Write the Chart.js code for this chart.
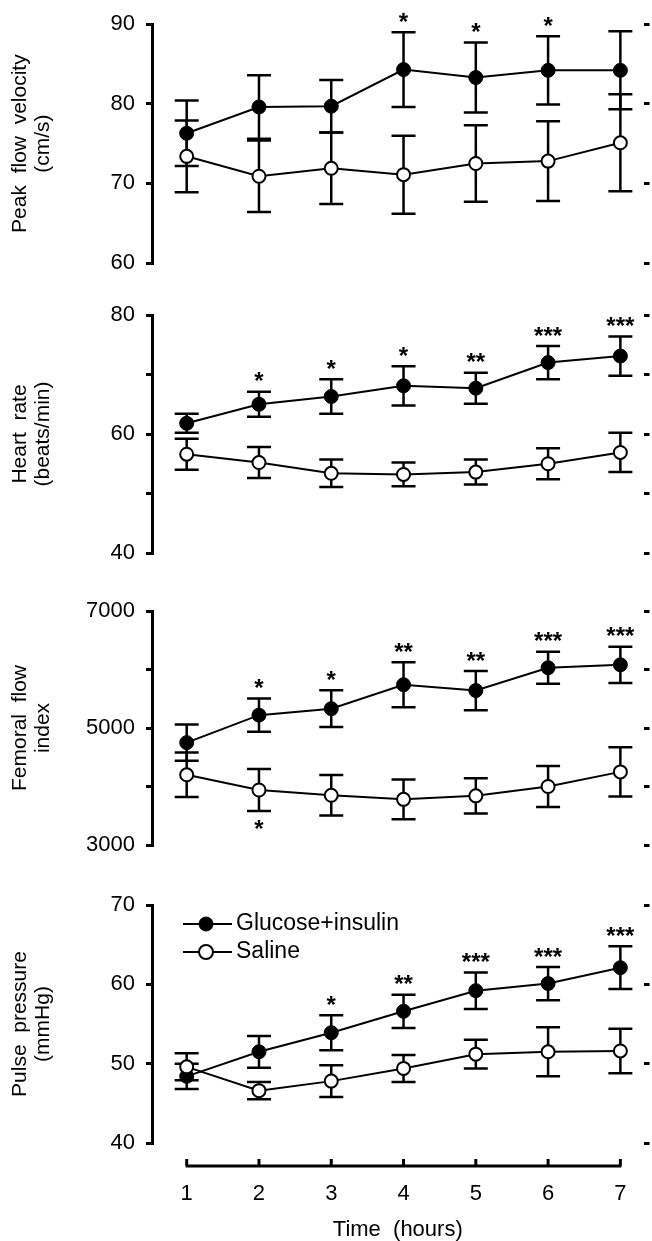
<!DOCTYPE html>
<html>
<head>
<meta charset="utf-8">
<title>Glucose + insulin vs saline</title>
<script src="https://cdn.jsdelivr.net/npm/chart.js@4.4.0/dist/chart.umd.min.js"></script>
<style>
  html, body { margin: 0; padding: 0; background: #fff; overflow: hidden; }
  #figure { position: relative; width: 652px; height: 1241px; }
  #figure canvas { position: absolute; left: 0; }
</style>
</head>
<body>
<div id="figure">
  <canvas id="peakChart" width="652" height="290" style="top:0"></canvas>
  <canvas id="hrChart" width="652" height="290" style="top:290px"></canvas>
  <canvas id="femChart" width="652" height="300" style="top:580px"></canvas>
  <canvas id="ppChart" width="652" height="380" style="top:880px"></canvas>
</div>
<script>
// === Data ===
const hours = [1, 2, 3, 4, 5, 6, 7];
const seriesNames = ["Glucose+insulin", "Saline"];

// peak flow velocity (cm/s)
const peakGlucose = [76.3, 79.6, 79.7, 84.3, 83.3, 84.2, 84.2];
const peakGlucoseErr = [4.1, 4.0, 3.3, 4.7, 4.4, 4.3, 4.9];
const peakSaline = [73.4, 70.9, 71.9, 71.1, 72.5, 72.8, 75.1];
const peakSalineErr = [4.5, 4.5, 4.5, 4.9, 4.8, 5.0, 6.1];
const peakStars = ["", "", "", "*", "*", "*", ""];
const peakTicks = [60, 70, 80, 90];
const peakTickLabels = [60, 70, 80, 90];

// heart rate (beats/min)
const hrGlucose = [61.8, 65.0, 66.3, 68.1, 67.7, 72.0, 73.1];
const hrGlucoseErr = [1.6, 2.1, 2.9, 3.3, 2.6, 2.8, 3.3];
const hrSaline = [56.6, 55.2, 53.4, 53.2, 53.6, 55.0, 56.9];
const hrSalineErr = [2.6, 2.6, 2.3, 2.0, 2.1, 2.6, 3.3];
const hrStars = ["", "*", "*", "*", "**", "***", "***"];
const hrTicks = [40, 50, 60, 70, 80];
const hrTickLabels = [40, 60, 80];

// femoral flow index
const femGlucose = [4750, 5220, 5330, 5740, 5640, 6030, 6080];
const femGlucoseErr = [310, 285, 315, 385, 335, 275, 310];
const femSaline = [4200, 3940, 3850, 3780, 3840, 4000, 4250];
const femSalineErr = [380, 360, 345, 340, 300, 350, 420];
const femStars = ["", "*", "*", "**", "**", "***", "***"];
const femSalineStars = ["", "*", "", "", "", "", ""];
const femTicks = [3000, 4000, 5000, 6000, 7000];
const femTickLabels = [3000, 5000, 7000];

// pulse pressure (mmHg)
const ppGlucose = [48.4, 51.5, 53.9, 56.6, 59.2, 60.1, 62.1];
const ppGlucoseErr = [1.6, 2.0, 2.2, 2.1, 2.3, 2.1, 2.7];
const ppSaline = [49.6, 46.6, 47.8, 49.4, 51.2, 51.5, 51.6];
const ppSalineErr = [1.7, 1.1, 2.0, 1.7, 1.8, 3.1, 2.8];
const ppStars = ["", "", "*", "**", "***", "***", "***"];
const ppTicks = [40, 50, 60, 70];
const ppTickLabels = [40, 50, 60, 70];

const FONT = '"Liberation Sans", Arial, Helvetica, sans-serif';
Chart.defaults.font.family = FONT;
Chart.defaults.color = "#000";

// === Plugins ===
// SEM bars, drawn under the markers
const errorBars = {
  id: "errorBars",
  beforeDatasetsDraw(chart) {
    const ctx = chart.ctx;
    const y = chart.scales.y;
    chart.data.datasets.forEach((ds, di) => {
      const meta = chart.getDatasetMeta(di);
      ctx.save();
      ctx.strokeStyle = "#000";
      ctx.lineWidth = 2.5;
      ctx.beginPath();
      meta.data.forEach((pt, i) => {
        const top = y.getPixelForValue(ds.data[i].y + ds.errors[i]);
        const bot = y.getPixelForValue(ds.data[i].y - ds.errors[i]);
        ctx.moveTo(pt.x, top); ctx.lineTo(pt.x, bot);
        ctx.moveTo(pt.x - 12, top); ctx.lineTo(pt.x + 12, top);
        ctx.moveTo(pt.x - 12, bot); ctx.lineTo(pt.x + 12, bot);
      });
      ctx.stroke();
      ctx.restore();
    });
  }
};

// significance asterisks beside the caps
const starMarks = {
  id: "starMarks",
  afterDatasetsDraw(chart) {
    const ctx = chart.ctx;
    const y = chart.scales.y;
    ctx.save();
    ctx.font = "bold 24px " + FONT;
    ctx.fillStyle = "#000";
    ctx.textAlign = "center";
    ctx.textBaseline = "middle";
    chart.data.datasets.forEach((ds, di) => {
      if (!ds.stars) return;
      const meta = chart.getDatasetMeta(di);
      meta.data.forEach((pt, i) => {
        const s = ds.stars[i];
        if (!s) return;
        if (ds.starSide === "below") {
          const cap = y.getPixelForValue(ds.data[i].y - ds.errors[i]);
          ctx.fillText(s, pt.x, cap + 19);
        } else {
          const cap = y.getPixelForValue(ds.data[i].y + ds.errors[i]);
          ctx.fillText(s, pt.x, cap - 9);
        }
      });
    });
    ctx.restore();
  }
};

// legend with line + marker, top-left of the plot
const lineLegend = {
  id: "lineLegend",
  afterDraw(chart) {
    const ctx = chart.ctx;
    const { left, top } = chart.chartArea;
    ctx.save();
    chart.data.datasets.forEach((ds, i) => {
      const yy = top + 19 + i * 28;
      ctx.strokeStyle = "#000";
      ctx.lineWidth = 2;
      ctx.beginPath();
      ctx.moveTo(left + 31, yy); ctx.lineTo(left + 80, yy);
      ctx.stroke();
      ctx.beginPath();
      ctx.arc(left + 54, yy, 7, 0, Math.PI * 2);
      ctx.fillStyle = ds.pointBackgroundColor;
      ctx.fill();
      ctx.lineWidth = ds.pointBorderWidth;
      ctx.stroke();
      ctx.fillStyle = "#000";
      ctx.font = "23px " + FONT;
      ctx.textBaseline = "middle";
      ctx.fillText(ds.label, left + 84, yy);
    });
    ctx.restore();
  }
};

// detached time axis under the last panel
const hourAxis = {
  id: "hourAxis",
  afterDraw(chart) {
    const ctx = chart.ctx;
    const x = chart.scales.x;
    const yLine = chart.chartArea.bottom + 23;
    ctx.save();
    ctx.strokeStyle = "#000";
    ctx.lineWidth = 3;
    ctx.beginPath();
    ctx.moveTo(x.getPixelForValue(hours[0]) - 1, yLine);
    ctx.lineTo(x.getPixelForValue(hours[hours.length - 1]) + 1, yLine);
    x.ticks.forEach(t => {
      const px = x.getPixelForValue(t.value);
      ctx.moveTo(px, yLine);
      ctx.lineTo(px, yLine - 7);
    });
    ctx.stroke();
    ctx.restore();
  }
};

function points(values) {
  return hours.map((h, i) => ({ x: h, y: values[i] }));
}

function makePanel(id, p) {
  const yCommon = {
    type: "linear",
    min: p.ticks[0],
    max: p.ticks[p.ticks.length - 1],
    afterBuildTicks: s => { s.ticks = p.ticks.map(v => ({ value: v })); },
    grid: { drawOnChartArea: false, color: "#000", lineWidth: 3, tickLength: 6 }
  };
  const plugins = [errorBars, starMarks];
  if (p.bottom) plugins.push(lineLegend, hourAxis);

  return new Chart(document.getElementById(id), {
    type: "line",
    data: {
      datasets: [
        {
          label: seriesNames[0],
          data: points(p.glucose),
          errors: p.glucoseErr,
          stars: p.stars,
          starSide: "above",
          order: 1,
          borderColor: "#000",
          borderWidth: 2,
          pointRadius: 7,
          pointBackgroundColor: "#000",
          pointBorderColor: "#000",
          pointBorderWidth: 1,
          tension: 0,
          clip: false
        },
        {
          label: seriesNames[1],
          data: points(p.saline),
          errors: p.salineErr,
          stars: p.salineStars || null,
          starSide: "below",
          order: 0,
          borderColor: "#000",
          borderWidth: 2,
          pointRadius: 6.5,
          pointBackgroundColor: "#fff",
          pointBorderColor: "#000",
          pointBorderWidth: 2,
          tension: 0,
          clip: false
        }
      ]
    },
    options: {
      responsive: false,
      animation: false,
      events: [],
      layout: { padding: { left: 0, right: 0, top: p.padTop, bottom: p.padBottom } },
      plugins: { legend: { display: false }, tooltip: { enabled: false } },
      scales: {
        x: {
          type: "linear",
          min: 0.52,
          max: 7.32,
          display: !!p.bottom,
          afterBuildTicks: s => { s.ticks = hours.map(v => ({ value: v })); },
          afterFit: s => {
            s.paddingLeft = 0;
            s.paddingRight = 0;
            if (p.bottom) s.height = 117;
          },
          grid: { display: false },
          border: { display: false },
          ticks: { font: { size: 22 }, padding: 30, maxRotation: 0 },
          title: {
            display: true,
            text: "Time  (hours)",
            font: { size: 22 },
            padding: { top: 0, bottom: 17 }
          }
        },
        y: Object.assign({}, yCommon, {
          position: "left",
          afterFit: s => { s.width = 152; },
          border: { display: true, color: "#000", width: 3 },
          ticks: {
            font: { size: 22 },
            padding: 11,
            callback: v => (p.labels.includes(v) ? String(v) : "")
          },
          title: {
            display: true,
            text: p.title,
            font: { size: 21, lineHeight: 1.1 },
            padding: { top: 9, bottom: 0 }
          }
        }),
        yRight: Object.assign({}, yCommon, {
          position: "right",
          afterFit: s => { s.width = 6; },
          border: { display: false },
          ticks: { display: false }
        })
      }
    },
    plugins: plugins
  });
}

makePanel("peakChart", {
  glucose: peakGlucose, glucoseErr: peakGlucoseErr,
  saline: peakSaline, salineErr: peakSalineErr,
  stars: peakStars, ticks: peakTicks, labels: peakTickLabels,
  title: ["Peak  flow  velocity", "(cm/s)"],
  padTop: 22, padBottom: 27
});

makePanel("hrChart", {
  glucose: hrGlucose, glucoseErr: hrGlucoseErr,
  saline: hrSaline, salineErr: hrSalineErr,
  stars: hrStars, ticks: hrTicks, labels: hrTickLabels,
  title: ["Heart  rate", "(beats/min)"],
  padTop: 25, padBottom: 27
});

makePanel("femChart", {
  glucose: femGlucose, glucoseErr: femGlucoseErr,
  saline: femSaline, salineErr: femSalineErr,
  stars: femStars, salineStars: femSalineStars,
  ticks: femTicks, labels: femTickLabels,
  title: ["Femoral  flow", "index"],
  padTop: 31, padBottom: 35
});

makePanel("ppChart", {
  glucose: ppGlucose, glucoseErr: ppGlucoseErr,
  saline: ppSaline, salineErr: ppSalineErr,
  stars: ppStars, ticks: ppTicks, labels: ppTickLabels,
  title: ["Pulse  pressure", "(mmHg)"],
  padTop: 25, padBottom: 0, bottom: true
});
</script>
</body>
</html>
